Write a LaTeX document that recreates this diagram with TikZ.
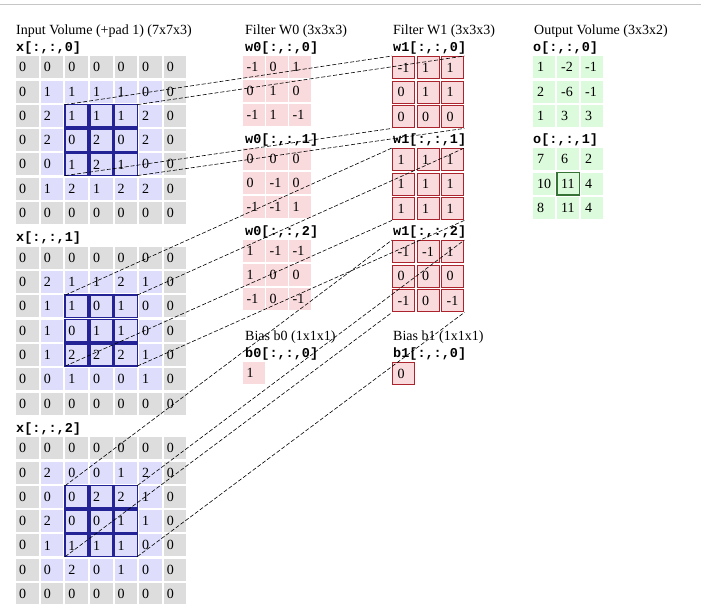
\documentclass[tikz,border=0pt]{standalone}
\usepackage{fontspec}
\setmainfont{Liberation Serif}
\setmonofont{Liberation Mono}
\definecolor{padgray}{RGB}{221,221,221}
\definecolor{inblue}{RGB}{222,222,252}
\definecolor{wpink}{RGB}{250,219,221}
\definecolor{outgreen}{RGB}{220,250,220}
\definecolor{hlblue}{RGB}{35,35,150}
\definecolor{hlred}{RGB}{170,35,45}
\definecolor{hlgreen}{RGB}{55,115,55}
\tikzset{every node/.style={font=\fontsize{14}{16}\selectfont},
 title/.style={anchor=west,inner sep=0pt},
 slice/.style={anchor=west,inner sep=0pt,font=\ttfamily\bfseries\fontsize{13.5}{15}\selectfont},
 incell/.style={anchor=north west,minimum height=22pt,text width=16.5pt,inner xsep=3pt,inner ysep=0pt,align=left},
 wcell/.style={anchor=north west,fill=wpink,minimum height=22pt,text width=15pt,inner xsep=3.5pt,inner ysep=0pt,align=left},
 rcell/.style={wcell,draw=hlred,line width=1.4pt,text width=12pt,inner xsep=5pt},
 ocell/.style={anchor=north west,fill=outgreen,minimum height=22pt,text width=14pt,inner xsep=4pt,inner ysep=0pt,align=left},
 hlbox/.style={draw=hlblue,line width=1.6pt},
 hlgbox/.style={draw=hlgreen,line width=1.2pt},
 link/.style={line width=.6pt,dash pattern=on 4pt off 2pt}}
% one padded input slice: #1 index, #2 rows
\newcommand{\inslice}[2]{\foreach \row [count=\r from 0] in {#2}{\foreach \v [count=\c from 0] in \row {
 \pgfmathtruncatemacro\pad{(\r==0)||(\r==6)||(\c==0)||(\c==6)}
 \ifnum\pad=1 \def\cc{padgray}\else\def\cc{inblue}\fi
 \node[incell,fill=\cc] (x#1-\r-\c) at ({16+24.6*\c},{56+190.5*#1+24.3*\r}) {\v};}}}
% small grid: #1 name, #2 left, #3 top, #4 xstep, #5 ystep, #6 style, #7 rows
\newcommand{\cellgrid}[7]{\foreach \row [count=\r from 0] in {#7}{\foreach \v [count=\c from 0] in \row {
 \node[#6] (#1-\r-\c) at ({#2+#4*\c},{#3+#5*\r}) {\v};}}}

\begin{document}
\begin{tikzpicture}[x=1pt,y=-1pt]
\fill[white] (0,0) rectangle (701,603);
\useasboundingbox (0,0) rectangle (701,603);
\draw[gray!45,line width=1pt] (0,4)--(701,4);
\node[title] (tin) at (16,31) {Input Volume (+pad 1) (7x7x3)};
\node[title] (tw0) at (245,31) {Filter W0 (3x3x3)};
\node[title] (tw1) at (393,31) {Filter W1 (3x3x3)};
\node[title] (tout) at (534,31) {Output Volume (3x3x2)};
% input volume
\foreach \k in {0,1,2} \node[slice] (lx\k) at (16,{48+190.5*\k}) {x[:,:,\k]};
\inslice{0}{{0,0,0,0,0,0,0},{0,1,1,1,1,0,0},{0,2,1,1,1,2,0},{0,2,0,2,0,2,0},{0,0,1,2,1,0,0},{0,1,2,1,2,2,0},{0,0,0,0,0,0,0}}
\inslice{1}{{0,0,0,0,0,0,0},{0,2,1,1,2,1,0},{0,1,1,0,1,0,0},{0,1,0,1,1,0,0},{0,1,2,2,2,1,0},{0,0,1,0,0,1,0},{0,0,0,0,0,0,0}}
\inslice{2}{{0,0,0,0,0,0,0},{0,2,0,0,1,2,0},{0,0,0,2,2,1,0},{0,2,0,0,1,1,0},{0,1,1,1,1,0,0},{0,0,2,0,1,0,0},{0,0,0,0,0,0,0}}
% filters
\foreach \k in {0,1,2}{\node[slice] (lwa\k) at (245,{48+92*\k}) {w0[:,:,\k]};
 \node[slice] (lwb\k) at (393,{48+92*\k}) {w1[:,:,\k]};}
\cellgrid{wa0}{243}{56}{23}{24}{wcell}{{-1,0,1},{0,1,0},{-1,1,-1}}
\cellgrid{wa1}{243}{148}{23}{24}{wcell}{{0,0,0},{0,-1,0},{-1,-1,1}}
\cellgrid{wa2}{243}{240}{23}{24}{wcell}{{1,-1,-1},{1,0,0},{-1,0,-1}}
\cellgrid{wb0}{392}{56}{24.5}{24.5}{rcell}{{-1,1,1},{0,1,1},{0,0,0}}
\cellgrid{wb1}{392}{148}{24.5}{24.5}{rcell}{{1,1,1},{1,1,1},{1,1,1}}
\cellgrid{wb2}{392}{240}{24.5}{24.5}{rcell}{{-1,-1,1},{0,0,0},{-1,0,-1}}
% biases
\node[title] (tb0) at (245,337) {Bias b0 (1x1x1)};
\node[slice] (lb0) at (245,354) {b0[:,:,0]};
\node[wcell] (b0) at (243,362) {1};
\node[title] (tb1) at (393,337) {Bias b1 (1x1x1)};
\node[slice] (lb1) at (393,354) {b1[:,:,0]};
\node[rcell] (b1) at (392,362) {0};
% output volume
\node[slice] (lo0) at (533,48) {o[:,:,0]};
\node[slice] (lo1) at (533,140) {o[:,:,1]};
\cellgrid{o0}{533}{56}{24}{24.5}{ocell}{{1,-2,-1},{2,-6,-1},{1,3,3}}
\cellgrid{o1}{533}{148}{24}{24.5}{ocell}{{7,6,2},{10,11,4},{8,11,4}}
\draw[hlgbox] (o1-1-1.north west) rectangle (o1-1-1.south east);
% receptive field and links to W1
\foreach \k in {0,1,2}{
 \foreach \r in {2,3,4}\foreach \c in {2,3,4}\draw[hlbox] (x\k-\r-\c.north west) rectangle (x\k-\r-\c.south east);
 \draw[link] (x\k-2-2.north west)--(wb\k-0-0.north west);
 \draw[link] (x\k-2-4.north east)--(wb\k-0-2.north east);
 \draw[link] (x\k-4-2.south west)--(wb\k-2-0.south west);
 \draw[link] (x\k-4-4.south east)--(wb\k-2-2.south east);}
\end{tikzpicture}
\end{document}
